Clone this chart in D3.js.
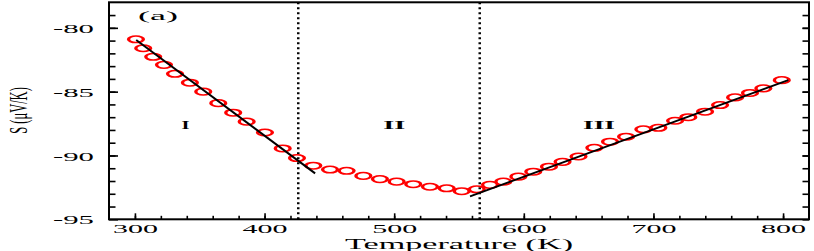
<!DOCTYPE html>
<html>
<head>
<meta charset="utf-8">
<script src="https://cdn.jsdelivr.net/npm/d3@7"></script>
<style>
  body { margin: 0; background: #fff; }
  text { font-family: "Liberation Serif", "DejaVu Serif", serif; fill: #000; }
</style>
</head>
<body>
<div class="canvas"></div>
<script>
// measured data: temperature (K) and thermopower S (uV/K)
const temps = [300.8, 306.4, 314.1, 322.4, 330.9, 342.4, 352.7, 364.3, 375.8, 386.2, 400.3, 414, 425,
  437.6, 450.5, 463.3, 476.2, 489, 501.9, 514.7, 527.6, 540.5, 552.1, 563.7,
  573.9, 584.2, 595.8, 607.3, 619.4, 629.9, 642.2, 654.4, 666.5, 678.9, 692.2, 703.8,
  716.7, 726.9, 739.8, 751.4, 763, 774.5, 784.8, 799];
const seebeck = [-80.9, -81.6, -82.27, -82.9, -83.6, -84.3, -85.0, -85.9, -86.65, -87.35, -88.2, -89.45, -90.2,
  -90.8, -91.1, -91.2, -91.6, -91.85, -92.05, -92.25, -92.45, -92.57, -92.8, -92.65,
  -92.3, -92.05, -91.66, -91.27, -90.88, -90.5, -90.08, -89.4, -88.92, -88.53, -87.95, -87.83,
  -87.28, -87.0, -86.57, -86.05, -85.45, -85.1, -84.74, -84.1];

// linear fits (endpoints) for regions I and III
const fitI = [[301, -80.95], [439, -91.4]];
const fitIII = [[558.5, -93.2], [804, -84.1]];

// region boundaries and labels
const boundaries = [426, 566];
const regionNames = ['I', 'II', 'III'];
const regionTemps = [339, 500, 658];
const regionS = -87.6;

// ticks
const xTicks = [300, 400, 500, 600, 700, 800];
const xTickLabels = ['300', '400', '500', '600', '700', '800'];
const xMinor = d3.range(300, 801, 20);
const yTicks = [-80, -85, -90, -95];
const yTickLabels = ['-80', '-85', '-90', '-95'];
const yMinor = d3.range(-94, -78, 1);

const width = 814;
const height = 251;

const svg = d3.select('.canvas')
  .append('svg')
    .attr('width', width)
    .attr('height', height);

const x = d3.scaleLinear().domain([280, 820]).range([109, 809]);
const y = d3.scaleLinear().domain([-95, -78]).range([219.3, 2.3]);

const plotW = x(820) - x(280);
const plotH = y(-95) - y(-78);

// minor ticks
svg.append('g')
  .attr('transform', `translate(0, ${y(-95)})`)
  .call(d3.axisBottom(x).tickValues(xMinor).tickSize(-3.5).tickFormat(''))
  .call(g => g.select('.domain').remove());
svg.append('g')
  .attr('transform', `translate(${x(280)}, 0)`)
  .call(d3.axisLeft(y).tickValues(yMinor).tickSize(-6.5).tickFormat(''))
  .call(g => g.select('.domain').remove());
svg.append('g')
  .attr('transform', `translate(${x(820)}, 0)`)
  .call(d3.axisRight(y).tickValues(yMinor.concat(yTicks)).tickSize(-6.5).tickFormat(''))
  .call(g => g.select('.domain').remove());

// major ticks with labels
const xAxisGroup = svg.append('g')
  .attr('transform', `translate(0, ${y(-95)})`)
  .call(d3.axisBottom(x).tickValues(xTicks).tickSize(-6).tickPadding(14)
    .tickFormat((d, i) => xTickLabels[i]));
xAxisGroup.select('.domain').remove();
xAxisGroup.selectAll('text')
  .attr('dy', 0)
  .attr('font-size', 12)
  .attr('textLength', 45)
  .attr('lengthAdjust', 'spacingAndGlyphs');

const yAxisGroup = svg.append('g')
  .attr('transform', `translate(${x(280)}, 0)`)
  .call(d3.axisLeft(y).tickValues(yTicks).tickSize(-9).tickPadding(15)
    .tickFormat((d, i) => yTickLabels[i]));
yAxisGroup.select('.domain').remove();
yAxisGroup.selectAll('text')
  .attr('dy', '0.35em')
  .attr('font-size', 13)
  .attr('textLength', 41)
  .attr('lengthAdjust', 'spacingAndGlyphs');

svg.selectAll('.tick line').attr('stroke', '#000').attr('stroke-width', 1.6);

// frame
svg.append('rect')
  .attr('x', x(280))
  .attr('y', y(-78))
  .attr('width', plotW)
  .attr('height', plotH)
  .attr('fill', 'none')
  .attr('stroke', '#000')
  .attr('stroke-width', 2);

// dotted region boundaries
svg.selectAll('.boundary')
  .data(boundaries)
  .enter()
  .append('line')
    .attr('x1', d => x(d))
    .attr('x2', d => x(d))
    .attr('y1', y(-78))
    .attr('y2', y(-95))
    .attr('stroke', '#000')
    .attr('stroke-width', 2.5)
    .attr('stroke-dasharray', '2,3');

// data markers (stretched circles)
const points = temps.map((t, i) => ({ t, s: seebeck[i] }));
svg.selectAll('.pt')
  .data(points)
  .enter()
  .append('circle')
    .attr('r', 3.3)
    .attr('fill', 'none')
    .attr('stroke', '#ff0000')
    .attr('stroke-width', 1.5)
    .attr('transform', d => `translate(${x(d.t)}, ${y(d.s)}) scale(2.25, 1)`);

// fit lines
const line = d3.line().x(d => x(d[0])).y(d => y(d[1]));
[fitI, fitIII].forEach(f => {
  svg.append('path')
    .attr('d', line(f))
    .attr('fill', 'none')
    .attr('stroke', '#000')
    .attr('stroke-width', 2);
});

// region labels
const regionLens = [8, 22, 32];
svg.selectAll('.region')
  .data(regionNames)
  .enter()
  .append('text')
    .attr('x', (d, i) => x(regionTemps[i]))
    .attr('y', y(regionS) + 4)
    .attr('text-anchor', 'middle')
    .attr('font-size', 12)
    .attr('font-weight', 'bold')
    .attr('textLength', (d, i) => regionLens[i])
    .attr('lengthAdjust', 'spacingAndGlyphs')
    .text(d => d);

// panel tag
svg.append('text')
  .attr('x', 158)
  .attr('y', 20)
  .attr('text-anchor', 'middle')
  .attr('font-size', 13)
  .attr('textLength', 40)
  .attr('lengthAdjust', 'spacingAndGlyphs')
  .text('(a)');

// axis titles
svg.append('text')
  .attr('x', 459)
  .attr('y', 249)
  .attr('text-anchor', 'middle')
  .attr('font-size', 14)
  .attr('textLength', 228)
  .attr('lengthAdjust', 'spacingAndGlyphs')
  .text('Temperature (K)');

svg.append('text')
  .attr('transform', 'translate(18, 110.5) scale(2.1, 1) rotate(-90)')
  .attr('text-anchor', 'middle')
  .attr('dy', '0.35em')
  .attr('font-size', 12.5)
  .text('S (μV/K)');
</script>
</body>
</html>
